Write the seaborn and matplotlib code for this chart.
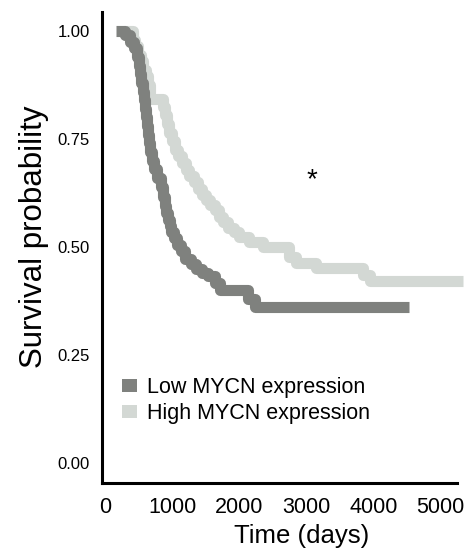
import numpy as np
import pandas as pd
import matplotlib
matplotlib.use("Agg")
import matplotlib.pyplot as plt
from matplotlib.patches import Patch
import seaborn as sns

# ---- data ----
low_time = [170, 300, 380, 430, 470, 500, 520, 540, 560, 580, 595, 610, 625, 640, 655,
            670, 695, 730, 780, 830, 860, 890, 915, 940, 965, 990, 1030, 1080, 1140,
            1200, 1280, 1360, 1440, 1540, 1640, 1720, 2130, 2230, 4530]
low_surv = [1.00, 0.99, 0.975, 0.96, 0.94, 0.92, 0.90, 0.88, 0.86, 0.84, 0.82, 0.80,
            0.78, 0.76, 0.74, 0.72, 0.70, 0.68, 0.66, 0.64, 0.615, 0.595, 0.578, 0.562,
            0.548, 0.534, 0.52, 0.505, 0.49, 0.472, 0.46, 0.45, 0.44, 0.432, 0.418,
            0.40, 0.38, 0.361, 0.361]

high_time = [280, 410, 450, 490, 530, 570, 610, 640, 670, 860, 890, 920, 955, 995,
             1040, 1090, 1150, 1210, 1260, 1320, 1380, 1440, 1500, 1560, 1640, 1700,
             1760, 1830, 1920, 2000, 2150, 2350, 2750, 2850, 3150, 3850, 3950, 5340]
high_surv = [1.00, 0.98, 0.965, 0.945, 0.93, 0.91, 0.895, 0.875, 0.842, 0.825, 0.805,
             0.785, 0.765, 0.745, 0.725, 0.71, 0.695, 0.678, 0.665, 0.65, 0.635, 0.62,
             0.61, 0.598, 0.585, 0.57, 0.558, 0.545, 0.535, 0.524, 0.512, 0.50, 0.478,
             0.463, 0.451, 0.436, 0.421, 0.421]

groups = ["Low MYCN expression", "High MYCN expression"]
colors = {"Low MYCN expression": "#7f817e", "High MYCN expression": "#d3d8d4"}
x_ticks = [0, 1000, 2000, 3000, 4000, 5000]
y_ticks = [0.00, 0.25, 0.50, 0.75, 1.00]
y_tick_labels = ["0.00", "0.25", "0.50", "0.75", "1.00"]

df = pd.concat([
    pd.DataFrame({"time": low_time, "surv": low_surv, "group": groups[0]}),
    pd.DataFrame({"time": high_time, "surv": high_surv, "group": groups[1]}),
], ignore_index=True)

sns.set_style("white")
plt.rcParams["font.family"] = ["Liberation Sans", "DejaVu Sans"]
plt.rcParams["text.color"] = "black"
plt.rcParams["axes.labelcolor"] = "black"
plt.rcParams["xtick.color"] = "black"
plt.rcParams["ytick.color"] = "black"

fig = plt.figure(figsize=(4.73, 5.53), dpi=100)
ax = fig.add_axes([102 / 473, 1 - 483 / 553, 355 / 473, 471 / 553])

sns.lineplot(data=df, x="time", y="surv", hue="group",
             hue_order=[groups[1], groups[0]], palette=colors,
             drawstyle="steps-post", linewidth=8, estimator=None, sort=False,
             legend=False, ax=ax)
for ln in ax.get_lines():
    ln.set_solid_joinstyle("round")
    ln.set_solid_capstyle("butt")
    ln.set_clip_on(False)

ax.set_xlim(-45, 5250)
ax.set_ylim(-0.046, 1.044)
ax.set_xticks(x_ticks)
ax.set_xticklabels([str(t) for t in x_ticks], fontsize=15.5)
ax.set_yticks(y_ticks)
ax.set_yticklabels(y_tick_labels, fontsize=12)
ax.tick_params(axis="x", length=0, pad=10, labelcolor="black")
ax.tick_params(axis="y", length=0, pad=9, labelcolor="black")

for s in ["top", "right"]:
    ax.spines[s].set_visible(False)
for s in ["left", "bottom"]:
    ax.spines[s].set_linewidth(2.2)
    ax.spines[s].set_color("black")

ax.set_xlabel("Time (days)", fontsize=18.5, color="black")
ax.set_ylabel("Survival probability", fontsize=22.5, color="black")
ax.xaxis.set_label_coords(0.563, -0.086)
ax.yaxis.set_label_coords(-0.15, 0.522)

ax.text(3090, 0.655, "*", fontsize=20, ha="center", va="center", color="black")

handles = [Patch(facecolor=colors[g], edgecolor="none", label=g) for g in groups]
leg = ax.legend(handles=handles, loc="upper left", bbox_to_anchor=(0.056, 0.224),
                frameon=False, fontsize=15.5, borderpad=0, borderaxespad=0,
                handlelength=0.7, handleheight=0.55, handletextpad=0.45,
                labelspacing=0.22)
for t in leg.get_texts():
    t.set_color("black")

fig.savefig("out.png", dpi=100)
